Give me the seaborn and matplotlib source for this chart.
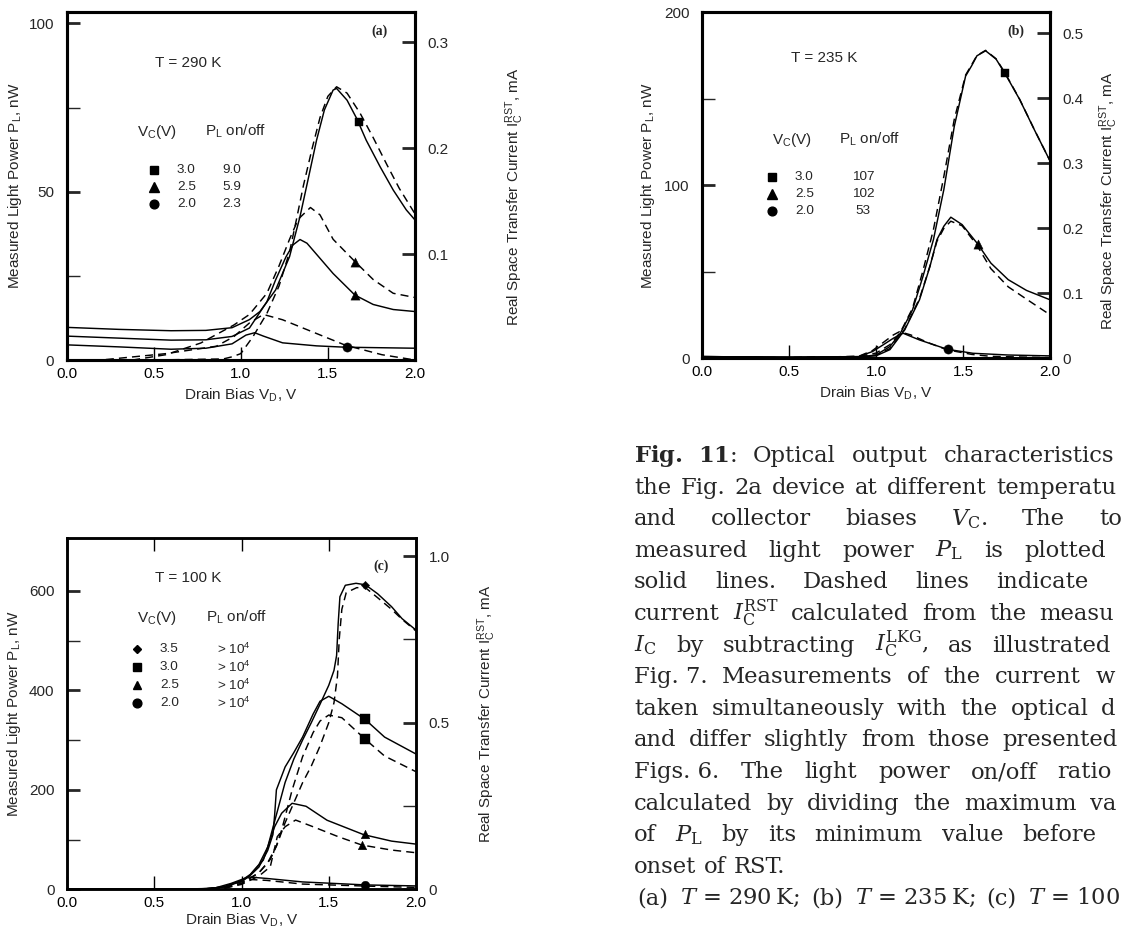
import matplotlib
matplotlib.use("Agg")
import matplotlib.pyplot as plt
from matplotlib.lines import Line2D
import seaborn as sns

# ---------------- data ----------------
x_ticks = [0.0, 0.5, 1.0, 1.5, 2.0]
x_ticklabels = ["0.0", "0.5", "1.0", "1.5", "2.0"]

# Panel (a) T = 290 K : light power P_L (nW, solid) and RST current (mA, dashed)
a_v_p30 = [0.0, 0.3, 0.6, 0.8, 0.95, 1.05, 1.11, 1.2, 1.28, 1.34, 1.39, 1.435, 1.48, 1.53, 1.55, 1.61, 1.665, 1.72, 1.8, 1.875, 1.95, 2.0]
a_p30 = [9.7, 9.1, 8.7, 8.8, 9.6, 12.0, 14.4, 20.8, 30.7, 42.6, 54.5, 65.3, 74.3, 80.2, 80.7, 77.2, 71.8, 65.3, 57.4, 50.5, 44.6, 41.6]
a_v_p25 = [0.0, 0.3, 0.6, 0.8, 0.95, 1.05, 1.15, 1.2, 1.26, 1.3, 1.34, 1.38, 1.455, 1.53, 1.655, 1.76, 1.875, 2.0]
a_p25 = [7.1, 6.5, 5.9, 6.0, 7.0, 9.5, 17.3, 23.8, 30.7, 34.2, 35.8, 34.7, 30.2, 25.7, 19.3, 16.5, 15.0, 14.4]
a_v_p20 = [0.0, 0.3, 0.6, 0.8, 0.95, 1.03, 1.08, 1.13, 1.24, 1.435, 1.6, 2.0]
a_p20 = [4.5, 3.9, 3.2, 3.5, 4.8, 7.4, 8.1, 7.1, 5.1, 4.2, 3.8, 3.5]
a_v_i30 = [0.0, 0.5, 0.9, 0.95, 1.0, 1.07, 1.15, 1.22, 1.28, 1.32, 1.36, 1.41, 1.455, 1.5, 1.55, 1.61, 1.685, 1.76, 1.84, 1.91, 2.0]
a_i30 = [0.0, 0.0, 0.001, 0.003, 0.006, 0.022, 0.044, 0.070, 0.102, 0.133, 0.165, 0.200, 0.229, 0.249, 0.258, 0.252, 0.233, 0.210, 0.184, 0.162, 0.138]
a_v_i25 = [0.0, 0.38, 0.57, 0.77, 0.96, 1.05, 1.15, 1.22, 1.28, 1.33, 1.4, 1.455, 1.53, 1.655, 1.76, 1.875, 2.0]
a_i25 = [0.0, 0.0, 0.005, 0.016, 0.033, 0.043, 0.063, 0.089, 0.114, 0.133, 0.144, 0.137, 0.114, 0.093, 0.076, 0.063, 0.059]
a_v_i20 = [0.0, 0.2, 0.57, 0.86, 0.96, 1.05, 1.13, 1.24, 1.435, 1.6, 1.81, 2.0]
a_i20 = [0.0, 0.0, 0.006, 0.013, 0.022, 0.035, 0.043, 0.038, 0.025, 0.014, 0.005, 0.0]
a_mk_sq_v, a_mk_sq_p = [1.68], [70.8]
a_mk_tri_v, a_mk_tri_p, a_mk_tri_i = [1.655], [19.3], [0.093]
a_mk_cir_v, a_mk_cir_p = [1.61], [3.8]
a_vc = ["3.0", "2.5", "2.0"]
a_onoff = ["9.0", "5.9", "2.3"]

# Panel (b) T = 235 K
b_v_30 = [0.0, 0.5, 0.9, 1.0, 1.08, 1.14, 1.21, 1.27, 1.33, 1.39, 1.45, 1.515, 1.55, 1.58, 1.63, 1.69, 1.74, 1.825, 1.91, 2.0]
b_p30 = [1.0, 0.6, 0.8, 1.9, 6.8, 14.5, 28.0, 47.3, 68.5, 97.5, 134.0, 163.0, 169.0, 174.7, 177.6, 172.8, 164.7, 149.6, 132.0, 114.0]
b_i30 = [0.001, 0.001, 0.003, 0.008, 0.021, 0.040, 0.077, 0.135, 0.198, 0.280, 0.368, 0.436, 0.452, 0.466, 0.474, 0.461, 0.440, 0.399, 0.352, 0.304]
b_v_25 = [0.0, 0.5, 0.9, 1.0, 1.08, 1.165, 1.25, 1.31, 1.35, 1.39, 1.43, 1.495, 1.58, 1.66, 1.76, 1.865, 2.0]
b_p25 = [1.0, 0.6, 0.8, 1.4, 5.0, 16.4, 33.8, 53.0, 68.5, 76.3, 81.5, 77.2, 66.6, 55.0, 45.4, 39.2, 33.8]
b_i25 = [0.001, 0.001, 0.002, 0.005, 0.015, 0.045, 0.092, 0.142, 0.180, 0.200, 0.211, 0.204, 0.174, 0.138, 0.110, 0.091, 0.067]
b_v_p20 = [0.0, 0.5, 0.9, 0.98, 1.04, 1.1, 1.155, 1.25, 1.41, 1.557, 1.76, 2.0]
b_p20 = [1.0, 0.6, 1.0, 3.9, 7.7, 11.6, 14.5, 10.6, 5.2, 2.9, 1.9, 1.4]
b_v_i20 = [0.0, 0.5, 0.9, 0.98, 1.04, 1.1, 1.135, 1.2, 1.3, 1.41, 1.55, 1.66, 2.0]
b_i20 = [0.0, 0.0, 0.003, 0.012, 0.024, 0.036, 0.041, 0.036, 0.024, 0.013, 0.006, 0.003, 0.001]
b_mk_sq_v, b_mk_sq_p = [1.742], [164.7]
b_mk_tri_v, b_mk_tri_p = [1.588], [66.0]
b_mk_cir_v, b_mk_cir_p = [1.412], [5.2]
b_vc = ["3.0", "2.5", "2.0"]
b_onoff = ["107", "102", "53"]

# Panel (c) T = 100 K
c_v_p35 = [0.0, 0.6, 0.8, 0.9, 1.0, 1.05, 1.1, 1.15, 1.2, 1.25, 1.3, 1.35, 1.4, 1.45, 1.5, 1.53, 1.545, 1.554, 1.564, 1.595, 1.656, 1.71, 1.78, 1.86, 1.92, 2.0]
c_p35 = [0.3, 0.3, 1.5, 5.0, 18.0, 30.0, 50.0, 85.0, 150.0, 215.0, 262.0, 300.0, 335.0, 372.0, 410.0, 440.0, 470.0, 534.0, 588.0, 611.0, 615.0, 612.0, 594.0, 568.0, 544.0, 521.0]
c_v_i35 = [0.0, 0.7, 0.9, 1.0, 1.1, 1.15, 1.2, 1.25, 1.3, 1.35, 1.4, 1.45, 1.5, 1.53, 1.55, 1.56, 1.575, 1.6, 1.66, 1.71, 1.78, 1.86, 1.92, 2.0]
c_i35 = [0.0, 0.0, 0.004, 0.018, 0.05, 0.08, 0.13, 0.2, 0.26, 0.32, 0.37, 0.43, 0.5, 0.56, 0.64, 0.75, 0.84, 0.89, 0.905, 0.905, 0.875, 0.84, 0.81, 0.775]
c_v_p30 = [0.0, 0.6, 0.8, 0.9, 1.0, 1.05, 1.1, 1.15, 1.18, 1.19, 1.2, 1.25, 1.3, 1.35, 1.41, 1.45, 1.5, 1.575, 1.71, 1.82, 2.0]
c_p30 = [0.3, 0.3, 1.5, 5.0, 17.0, 28.0, 45.0, 78.0, 110.0, 150.0, 200.0, 246.0, 275.0, 306.0, 352.0, 378.0, 388.0, 373.0, 341.0, 306.0, 272.0]
c_v_i30 = [0.0, 0.7, 0.9, 1.0, 1.1, 1.165, 1.2, 1.23, 1.29, 1.35, 1.41, 1.45, 1.5, 1.575, 1.71, 1.82, 2.0]
c_i30 = [0.0, 0.0, 0.004, 0.018, 0.05, 0.09, 0.13, 0.178, 0.298, 0.398, 0.47, 0.505, 0.523, 0.515, 0.45, 0.40, 0.353]
c_v_p25 = [0.0, 0.6, 0.8, 0.9, 1.0, 1.04, 1.125, 1.19, 1.23, 1.29, 1.37, 1.49, 1.7, 1.86, 2.0]
c_p25 = [0.3, 0.3, 1.5, 5.0, 16.0, 25.0, 59.0, 126.0, 153.0, 173.0, 167.0, 139.0, 110.0, 97.0, 91.0]
c_v_i25 = [0.0, 0.7, 0.9, 1.0, 1.1, 1.165, 1.205, 1.25, 1.31, 1.41, 1.555, 1.69, 1.86, 2.0]
c_i25 = [0.0, 0.0, 0.003, 0.015, 0.04, 0.068, 0.158, 0.188, 0.208, 0.188, 0.158, 0.133, 0.118, 0.11]
c_v_20 = [0.0, 0.6, 0.84, 0.94, 1.04, 1.145, 1.35, 1.71, 2.0]
c_p20 = [0.3, 0.3, 2.0, 12.0, 25.0, 22.0, 15.0, 9.0, 7.0]
c_i20 = [0.0, 0.0, 0.002, 0.012, 0.030, 0.027, 0.016, 0.010, 0.006]
c_mk_dia_v, c_mk_dia_p = [1.708], [612.0]
c_mk_sq_v, c_mk_sq_p, c_mk_sq_vi, c_mk_sq_i = [1.708], [341.7], [1.707], [0.45]
c_mk_tri_v, c_mk_tri_p, c_mk_tri_vi, c_mk_tri_i = [1.708], [110.5], [1.693], [0.133]
c_mk_cir_v, c_mk_cir_p = [1.708], [9.4]
c_vc = ["3.5", "3.0", "2.5", "2.0"]
c_onoff = [r"> 10$^\mathrm{4}$"] * 4

caption_lines = [
    [r"$\mathbf{Fig.}$", r"$\mathbf{11}$:", "Optical", "output", "characteristics", "of"],
    ["the", "Fig.", "2a", "device", "at", "different", "temperatures"],
    ["and", "collector", "biases", r"$V_\mathrm{C}$.", "The", "total"],
    ["measured", "light", "power", r"$P_\mathrm{L}$", "is", "plotted", "as"],
    ["solid", "lines.", "Dashed", "lines", "indicate", "the"],
    ["current", r"$I_\mathrm{C}^\mathrm{RST}$", "calculated", "from", "the", "measured"],
    [r"$I_\mathrm{C}$", "by", "subtracting", r"$I_\mathrm{C}^\mathrm{LKG}$,", "as", "illustrated", "in"],
    ["Fig. 7.", "Measurements", "of", "the", "current", "were"],
    ["taken", "simultaneously", "with", "the", "optical", "data"],
    ["and", "differ", "slightly", "from", "those", "presented", "in"],
    ["Figs. 6.", "The", "light", "power", "on/off", "ratio", "is"],
    ["calculated", "by", "dividing", "the", "maximum", "value"],
    ["of", r"$P_\mathrm{L}$", "by", "its", "minimum", "value", "before", "the"],
    ["onset", "of", "RST."],
    ["(a)", "$T$ = 290\u2009K;", "(b)", "$T$ = 235\u2009K;", "(c)", "$T$ = 100\u2009K"],
]
caption_justified = [True] * 13 + [False, False]

# ---------------- style ----------------
sns.set_style("white")
plt.rcParams["font.family"] = ["Liberation Sans", "DejaVu Sans"]
plt.rcParams["mathtext.fontset"] = "custom"
plt.rcParams["mathtext.rm"] = "Liberation Sans"
plt.rcParams["mathtext.it"] = "Liberation Sans:italic"
plt.rcParams["mathtext.bf"] = "Liberation Sans:bold"

W, H = 1124, 930
fig = plt.figure(figsize=(W / 100, H / 100), dpi=100)
fig.patch.set_facecolor("white")


def fx(px):
    return px / W


def fy(py):
    return 1 - py / H


def ftext(px, py, s, **kw):
    kw.setdefault("fontsize", 11)
    kw.setdefault("va", "center")
    return fig.text(fx(px), fy(py), s, **kw)


def fmark(px, py, marker, ms):
    fig.add_artist(Line2D([fx(px)], [fy(py)], marker=marker, ms=ms, color="k",
                          ls="none", transform=fig.transFigure))


def panel(box, ylim, lmaj, lmin, llab, rlim, rmaj, rmin, rlab, top_ticks, spw, lx, rx, ry, xly):
    l, t, r, b = box
    ax = fig.add_axes([fx(l), fy(b), (r - l) / W, (b - t) / H])
    tw = ax.twinx()
    ax.set_xlim(0, 2)
    ax.set_ylim(*ylim)
    tw.set_ylim(*rlim)
    ax.set_xticks(x_ticks)
    ax.set_xticklabels(x_ticklabels)
    ax.set_yticks(lmaj)
    ax.set_yticklabels(llab)
    ax.set_yticks(lmin, minor=True)
    tw.set_yticks(rmaj)
    tw.set_yticklabels(rlab)
    tw.set_yticks(rmin, minor=True)
    ax.tick_params(axis="x", which="both", direction="in", length=9.5, width=1.0,
                   bottom=True, top=top_ticks, labelsize=11, pad=5, colors="k")
    ax.tick_params(axis="y", which="major", direction="in", length=9.5, width=2.0,
                   left=True, right=False, labelsize=11, pad=9)
    ax.tick_params(axis="y", which="minor", direction="in", length=9.5, width=1.0,
                   left=True, right=False)
    tw.tick_params(axis="y", which="major", direction="in", length=9.5, width=2.0,
                   right=True, left=False, labelright=True, labelleft=False, labelsize=11, pad=9)
    tw.tick_params(axis="y", which="minor", direction="in", length=9.5, width=1.0,
                   right=True, left=False)
    for a in (ax, tw):
        for s in a.spines.values():
            s.set_visible(True)
            s.set_linewidth(spw)
            s.set_color("k")
    ax.set_xlabel(r"Drain Bias V$_\mathrm{D}$, V", fontsize=11)
    ax.xaxis.set_label_coords(0.5, xly)
    ax.set_ylabel(r"Measured Light Power P$_\mathrm{L}$, nW", fontsize=11)
    ax.yaxis.set_label_coords(lx, 0.5)
    tw.set_ylabel(r"Real Space Transfer Current I$_\mathrm{C}^\mathrm{RST}$, mA", fontsize=11)
    tw.yaxis.set_label_coords(rx, ry)
    return ax, tw


LW = 1.05
DASH = (0, (5.5, 3.5))


def solid(ax, v, y):
    sns.lineplot(x=v, y=y, ax=ax, color="k", lw=LW, estimator=None, sort=False)


def dashed(ax, v, y):
    sns.lineplot(x=v, y=y, ax=ax, color="k", lw=LW, linestyle=DASH, estimator=None, sort=False)


def marks(ax, v, y, marker, size):
    sns.scatterplot(x=v, y=y, ax=ax, marker=marker, s=size, color="k", edgecolor="k",
                    linewidth=0.3, zorder=5)


# ---------------- panel (a) ----------------
axa, twa = panel((66.5, 12, 415, 360), (0, 103.4), [0, 50, 100], [25, 75], ["0", "50", "100"],
                 (0, 0.3286), [0.1, 0.2, 0.3], [], ["0.1", "0.2", "0.3"], False, 2.2,
                 -0.122, 1.255, 0.47, -0.077)
solid(axa, a_v_p30, a_p30)
solid(axa, a_v_p25, a_p25)
solid(axa, a_v_p20, a_p20)
dashed(twa, a_v_i30, a_i30)
dashed(twa, a_v_i25, a_i25)
dashed(twa, a_v_i20, a_i20)
marks(axa, a_mk_sq_v, a_mk_sq_p, "s", 40)
marks(axa, a_mk_tri_v, a_mk_tri_p, "^", 44)
marks(twa, a_mk_tri_v, a_mk_tri_i, "^", 44)
marks(axa, a_mk_cir_v, a_mk_cir_p, "o", 44)

ftext(188, 63, "T = 290 K", ha="center")
ftext(157, 132, r"V$_\mathrm{C}$(V)", ha="center")
ftext(236, 131, r"P$_\mathrm{L}$ on/off", ha="center")
for i, (mk, ms) in enumerate([("s", 6.0), ("^", 6.5), ("o", 6.3)]):
    yy = 170 + 17 * i
    fmark(154, yy, mk, ms)
    ftext(177, yy, a_vc[i], ha="left", fontsize=9.7)
    ftext(222, yy, a_onoff[i], ha="left", fontsize=9.7)
ftext(380, 31, "(a)", ha="center", family="Liberation Serif", fontweight="bold", fontsize=10)

# ---------------- panel (b) ----------------
axb, twb = panel((702, 12, 1050, 358.3), (0, 200), [0, 100, 200], [50, 150], ["0", "100", "200"],
                 (0, 0.533), [0, 0.1, 0.2, 0.3, 0.4, 0.5], [], ["0", "0.1", "0.2", "0.3", "0.4", "0.5"],
                 False, 2.2, -0.128, 1.136, 0.455, -0.077)
solid(axb, b_v_30, b_p30)
solid(axb, b_v_25, b_p25)
solid(axb, b_v_p20, b_p20)
dashed(twb, b_v_30, b_i30)
dashed(twb, b_v_25, b_i25)
dashed(twb, b_v_i20, b_i20)
marks(axb, b_mk_sq_v, b_mk_sq_p, "s", 40)
marks(axb, b_mk_tri_v, b_mk_tri_p, "^", 44)
marks(axb, b_mk_cir_v, b_mk_cir_p, "o", 44)

ftext(824, 58, "T = 235 K", ha="center")
ftext(792, 140, r"V$_\mathrm{C}$(V)", ha="center")
ftext(870, 139, r"P$_\mathrm{L}$ on/off", ha="center")
for i, (mk, ms) in enumerate([("s", 6.0), ("^", 6.5), ("o", 6.3)]):
    yy = 177 + 17 * i
    fmark(772, yy, mk, ms)
    ftext(795, yy, b_vc[i], ha="left", fontsize=9.7)
    ftext(863, yy, b_onoff[i], ha="center", fontsize=9.7)
ftext(1016, 31, "(b)", ha="center", family="Liberation Serif", fontweight="bold", fontsize=10)

# ---------------- panel (c) ----------------
axc, twc = panel((67, 538, 416, 889.4), (0, 706), [0, 200, 400, 600], [100, 300, 500],
                 ["0", "200", "400", "600"], (0, 1.054), [0, 0.5, 1.0], [0.25, 0.75],
                 ["0", "0.5", "1.0"], True, 1.8, -0.126, 1.17, 0.5, -0.064)
solid(axc, c_v_p35, c_p35)
solid(axc, c_v_p30, c_p30)
solid(axc, c_v_p25, c_p25)
solid(axc, c_v_20, c_p20)
dashed(twc, c_v_i35, c_i35)
dashed(twc, c_v_i30, c_i30)
dashed(twc, c_v_i25, c_i25)
dashed(twc, c_v_20, c_i20)
marks(axc, c_mk_dia_v, c_mk_dia_p, "D", 18)
marks(axc, c_mk_sq_v, c_mk_sq_p, "s", 48)
marks(twc, c_mk_sq_vi, c_mk_sq_i, "s", 48)
marks(axc, c_mk_tri_v, c_mk_tri_p, "^", 38)
marks(twc, c_mk_tri_vi, c_mk_tri_i, "^", 38)
marks(axc, c_mk_cir_v, c_mk_cir_p, "o", 38)

ftext(188, 578, "T = 100 K", ha="center")
ftext(157, 618, r"V$_\mathrm{C}$(V)", ha="center")
ftext(237, 617, r"P$_\mathrm{L}$ on/off", ha="center")
for i, (mk, ms) in enumerate([("D", 3.8), ("s", 6.2), ("^", 6.3), ("o", 6.3)]):
    yy = 649 + 18 * i
    fmark(137, yy, mk, ms)
    ftext(160, yy, c_vc[i], ha="left", fontsize=9.7)
    ftext(217, yy, c_onoff[i], ha="left", fontsize=9.7)
ftext(381, 566, "(c)", ha="center", family="Liberation Serif", fontweight="bold", fontsize=10)

# ---------------- caption (justified, cut by the right page edge like the reference) ----------------
CAP_LEFT, CAP_RIGHT = 634, 1152
CAP_BASE0, CAP_STEP = 462, 31.6
CAP_FS = 16.3
renderer = fig.canvas.get_renderer()


def text_width(o):
    return o.get_window_extent(renderer).width


for i, toks in enumerate(caption_lines):
    yb = CAP_BASE0 + CAP_STEP * i
    objs = [fig.text(0, 0, t, fontsize=CAP_FS, family="DejaVu Serif",
                     math_fontfamily="dejavuserif", va="baseline", ha="left") for t in toks]
    widths = [text_width(o) for o in objs]
    if caption_justified[i] and len(objs) > 1:
        gap = (CAP_RIGHT - CAP_LEFT - sum(widths)) / (len(objs) - 1)
    else:
        gap = 7.5 if i < len(caption_lines) - 1 else 11.5
    x = CAP_LEFT + (3 if i == len(caption_lines) - 1 else 0)
    for o, t, w in zip(objs, toks, widths):
        if x >= W - 3:
            o.remove()
            x += w + gap
            continue
        if x + w > W - 1:
            s = t
            while len(s) > 0 and x + text_width(o) > W - 1:
                s = s[:-1]
                o.set_text(s)
            if not s:
                o.remove()
                x += w + gap
                continue
        o.set_position((fx(x), fy(yb)))
        x += w + gap

fig.savefig("out.png", dpi=100, facecolor="white")
